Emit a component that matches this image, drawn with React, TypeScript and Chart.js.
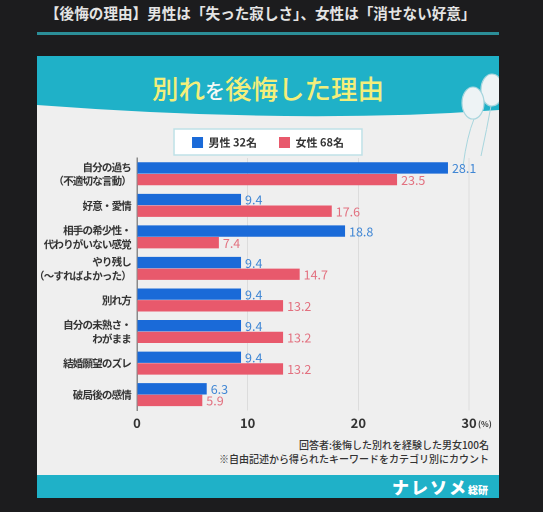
import React, { useEffect, useRef } from "react";
import { Chart, registerables } from "chart.js";

Chart.register(...registerables);

const headline = "【後悔の理由】男性は「失った寂しさ」、女性は「消せない好意」";
const titleParts = ["別れ", "を", "後悔した理由"];
const categories: string[][] = [
  ["自分の過ち", "（不適切な言動）"],
  ["好意・愛情"],
  ["相手の希少性・", "代わりがいない感覚"],
  ["やり残し", "（〜すればよかった）"],
  ["別れ方"],
  ["自分の未熟さ・", "わがまま"],
  ["結婚願望のズレ"],
  ["破局後の感情"],
];
const seriesNames = ["男性 32名", "女性 68名"];
const maleValues = [28.1, 9.4, 18.8, 9.4, 9.4, 9.4, 9.4, 6.3];
const femaleValues = [23.5, 17.6, 7.4, 14.7, 13.2, 13.2, 13.2, 5.9];
const xTicks = [0, 10, 20, 30];
const unitLabel = "(%)";
const footnotes = [
  "回答者:後悔した別れを経験した男女100名",
  "※自由記述から得られたキーワードをカテゴリ別にカウント",
];
const brandMain = "ナレソメ";
const brandSub = "総研";

const FONT = "'Noto Sans CJK JP', 'Noto Sans', sans-serif";
const TEAL = "#1fb1c8";
const BLUE = "#1a6ad8";
const PINK = "#e8596c";
const BLUE_LABEL = "#3f86d4";
const PINK_LABEL = "#e2707f";

// shift the legend so it is centred on the card rather than on the plot
const legendShift = {
  id: "legendShift",
  afterLayout(chart: any) {
    const lg = chart.legend;
    if (lg) lg.left += 30;
  },
};

// tighter letter spacing for the category labels (the original uses proportional kana)
const tightLabels = {
  id: "tightLabels",
  beforeDraw(chart: any) {
    const s = chart.scales.y;
    if (s && !s._tightPatched) {
      const orig = s.drawLabels.bind(s);
      s.drawLabels = (area: any) => {
        const ctx = chart.ctx;
        ctx.save();
        ctx.letterSpacing = "-0.8px";
        orig(area);
        ctx.restore();
      };
      s._tightPatched = true;
    }
  },
};

const legendBox = {
  id: "legendBox",
  beforeDraw(chart: any) {
    const lg = chart.legend;
    if (!lg || !lg.legendHitBoxes || !lg.legendHitBoxes.length) return;
    const hb = lg.legendHitBoxes;
    const first = hb[0];
    const last = hb[hb.length - 1];
    const l = first.left - 18;
    const r = last.left + last.width + 18;
    const t = first.top - 8;
    const b = first.top + first.height + 7;
    const ctx = chart.ctx;
    ctx.save();
    ctx.fillStyle = "#ffffff";
    ctx.fillRect(l, t, r - l, b - t);
    ctx.strokeStyle = "#bfe1e7";
    ctx.lineWidth = 1.5;
    ctx.strokeRect(l, t, r - l, b - t);
    ctx.restore();
  },
};

const valueLabels = {
  id: "valueLabels",
  afterDatasetsDraw(chart: any) {
    const ctx = chart.ctx;
    chart.data.datasets.forEach((ds: any, di: number) => {
      const meta = chart.getDatasetMeta(di);
      meta.data.forEach((bar: any, i: number) => {
        ctx.save();
        ctx.font = `12.5px ${FONT}`;
        ctx.fillStyle = ds.labelColor;
        ctx.textAlign = "left";
        ctx.textBaseline = "middle";
        ctx.fillText(Number(ds.data[i]).toFixed(1), bar.x + 4, bar.y + 0.5);
        ctx.restore();
      });
    });
  },
};

const unitMark = {
  id: "unitMark",
  afterDraw(chart: any) {
    const sx = chart.scales.x;
    const px = sx.getPixelForValue(xTicks[xTicks.length - 1]);
    const ctx = chart.ctx;
    ctx.save();
    ctx.font = `bold 8px ${FONT}`;
    ctx.fillStyle = "#333";
    ctx.textAlign = "left";
    ctx.textBaseline = "middle";
    ctx.fillText(unitLabel, px + 9, sx.top + 13.5);
    ctx.restore();
  },
};

function BarChart() {
  const ref = useRef<HTMLCanvasElement>(null);
  useEffect(() => {
    if (!ref.current) return;
    const chart = new Chart(ref.current, {
      type: "bar",
      data: {
        labels: categories,
        datasets: [
          {
            label: seriesNames[0],
            data: maleValues,
            backgroundColor: BLUE,
            labelColor: BLUE_LABEL,
            categoryPercentage: 0.74,
            barPercentage: 0.97,
          } as any,
          {
            label: seriesNames[1],
            data: femaleValues,
            backgroundColor: PINK,
            labelColor: PINK_LABEL,
            categoryPercentage: 0.74,
            barPercentage: 0.97,
          } as any,
        ],
      },
      options: {
        indexAxis: "y",
        responsive: false,
        animation: false,
        devicePixelRatio: 2,
        layout: { padding: { left: 0, right: 30, top: 0, bottom: 0 } },
        plugins: {
          legend: {
            position: "top",
            labels: {
              boxWidth: 11,
              boxHeight: 11,
              padding: 22,
              color: "#333",
              font: { family: FONT, size: 11, weight: "bold" },
            },
          },
          tooltip: { enabled: false },
        },
        scales: {
          x: {
            min: 0,
            max: 30,
            afterBuildTicks: (s: any) => {
              s.ticks = xTicks.map((v) => ({ value: v }));
            },
            grid: {
              drawTicks: false,
              color: (c: any) => (c.tick && c.tick.value === 0 ? "rgba(0,0,0,0)" : "#dcdcdc"),
            },
            border: { display: false },
            ticks: {
              padding: 5,
              color: "#333",
              font: { family: FONT, size: 13, weight: "bold" },
            },
          },
          y: {
            afterFit: (s: any) => {
              s.width = 100;
            },
            grid: { display: false, drawTicks: false },
            border: { display: true, color: "#8a8a8a", width: 1.5 },
            ticks: {
              padding: 6,
              color: "#333",
              font: { family: FONT, size: 10.5, weight: "bold", lineHeight: 1.33 },
            },
          },
        },
      },
      plugins: [legendShift, tightLabels, legendBox, valueLabels, unitMark],
    } as any);
    return () => chart.destroy();
  }, []);
  return <canvas ref={ref} width={462} height={321} style={{ width: 462, height: 321, display: "block" }} />;
}

export default function App() {
  return (
    <div
      style={{
        position: "fixed",
        left: 0,
        top: 0,
        width: 543,
        height: 512,
        background: "#1c1c1e",
        overflow: "hidden",
        fontFamily: FONT,
      }}
    >
      <div
        style={{
          position: "absolute",
          left: 45,
          top: 3,
          fontSize: 14.6,
          fontWeight: 700,
          lineHeight: "20px",
          color: "#e4e4e4",
          whiteSpace: "nowrap",
        }}
      >
        {headline}
      </div>
      <div style={{ position: "absolute", left: 37, top: 32, width: 462, height: 3, background: "#2b8e98" }} />
      <div
        style={{
          position: "absolute",
          left: 37,
          top: 56,
          width: 462,
          height: 442,
          background: "#efefef",
          overflow: "hidden",
        }}
      >
        <svg width={462} height={110} style={{ position: "absolute", left: 0, top: 0 }}>
          <path d="M0,0 H462 V54 Q260,68.5 0,49 Z" fill={TEAL} />
          <path d="M437,63 Q430,80 426,110" stroke="#a8d6de" strokeWidth={1} fill="none" />
          <path d="M454,50 Q450,72 444,100" stroke="#a8d6de" strokeWidth={1} fill="none" />
          <ellipse cx={455} cy={34} rx={11} ry={16} fill="#eef3f5" stroke="#a8d6de" strokeWidth={1.2} />
          <ellipse cx={436} cy={47} rx={11} ry={16} fill="#eef3f5" stroke="#a8d6de" strokeWidth={1.2} />
        </svg>
        <div
          style={{
            position: "absolute",
            left: 0,
            top: 16,
            width: 462,
            textAlign: "center",
            fontSize: 26.5,
            fontWeight: 500,
            lineHeight: "32px",
            color: "#f3ee7a",
            whiteSpace: "nowrap",
          }}
        >
          {titleParts[0]}
          <span style={{ fontSize: 20, color: "#f4f8f4" }}>{titleParts[1]}</span>
          {titleParts[2]}
        </div>
        <div style={{ position: "absolute", left: 0, top: 59 }}>
          <BarChart />
        </div>
        <div
          style={{
            position: "absolute",
            right: 10,
            top: 382,
            fontSize: 10,
            lineHeight: "14px",
            fontWeight: 500,
            color: "#333",
            textAlign: "right",
            whiteSpace: "nowrap",
          }}
        >
          {footnotes.map((f) => (
            <div key={f}>{f}</div>
          ))}
        </div>
        <div
          style={{
            position: "absolute",
            left: 0,
            top: 419,
            width: 462,
            height: 23,
            background: TEAL,
          }}
        >
          <div
            style={{
              position: "absolute",
              right: 11,
              top: 0,
              height: 23,
              lineHeight: "23px",
              color: "#ffffff",
              fontWeight: 900,
              whiteSpace: "nowrap",
            }}
          >
            <span style={{ fontSize: 17, letterSpacing: 2 }}>{brandMain}</span>
            <span style={{ fontSize: 10 }}>{brandSub}</span>
          </div>
        </div>
      </div>
    </div>
  );
}
